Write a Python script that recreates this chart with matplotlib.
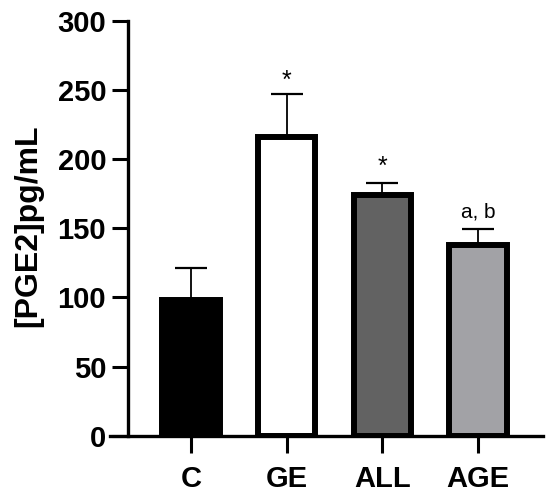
import matplotlib
matplotlib.use("Agg")
import matplotlib.pyplot as plt

categories = ["C", "GE", "ALL", "AGE"]
means = [98, 216, 174.5, 138]
errors = [23, 31, 8, 11.5]
labels = ["", "*", "*", "a, b"]
label_y = [0, 248, 186, 155]
fills = ["#000000", "#ffffff", "#626262", "#a2a2a6"]
yticks = [0, 50, 100, 150, 200, 250, 300]

plt.rcParams['font.family'] = ['Liberation Sans', 'DejaVu Sans']

fig = plt.figure(figsize=(5.5, 4.97), dpi=100)
ax = fig.add_axes([0.2, 0.1233, 0.7873, 0.8344])

for s in ['top', 'right']:
    ax.spines[s].set_visible(False)
ax.spines['left'].set_position(('data', -0.661))
ax.spines['left'].set_linewidth(2.4)
ax.spines['bottom'].set_linewidth(2.4)
ax.spines['left'].set_zorder(4)
ax.spines['bottom'].set_zorder(4)

x = list(range(len(categories)))
ax.bar(x, means, width=0.6, color=fills, edgecolor="black", linewidth=4.3, zorder=2)
ax.errorbar(x, means, yerr=[[0]*len(errors), errors], fmt='none', ecolor='black',
            elinewidth=1.3, capsize=11.5, capthick=1.6, zorder=1)
for xi, lab, ly in zip(x, labels, label_y):
    if lab:
        fs = 18 if lab == "*" else 15
        ax.text(xi, ly, lab, ha='center', va='bottom', fontsize=fs, zorder=3)

ax.set_xlim(-0.846, 3.678)
ax.set_ylim(0, 300)
ax.set_xticks(x)
ax.set_xticklabels(categories, fontsize=21, fontweight='bold')
ax.set_yticks(yticks)
ax.set_yticklabels([str(t) for t in yticks], fontsize=21, fontweight='bold')
ax.set_ylabel("[PGE2]pg/mL", fontsize=23, fontweight='bold')
ax.yaxis.set_label_coords(-0.155, 0.506)

ax.tick_params(axis='y', length=11.5, width=2.2, pad=4)
ax.tick_params(axis='x', length=12, width=2.2, pad=9)

fig.savefig("out.png", dpi=100)
